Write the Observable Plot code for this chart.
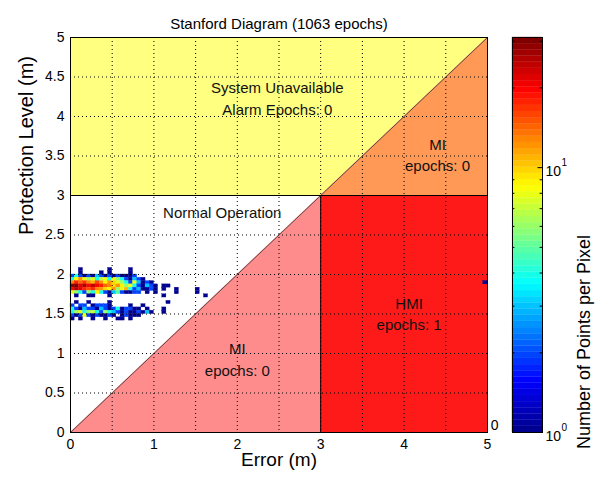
<!DOCTYPE html>
<html><head><meta charset="utf-8">
<script src="https://cdn.jsdelivr.net/npm/d3@7"></script>
<script src="https://cdn.jsdelivr.net/npm/@observablehq/plot@0.6"></script>
<style>
body{margin:0;background:#fff;}
#wrap{position:relative;width:602px;height:484px;overflow:hidden;}
#wrap svg{position:absolute;left:0;top:0;}
</style></head><body><div id="wrap"></div>
<script>
// ---- data ----
const titleText = "Stanford Diagram (1063 epochs)";
const xLabel = "Error (m)";
const yLabel = "Protection Level (m)";
const cbLabel = "Number of Points per Pixel";
const axisMax = 5;
const alarmLimit = 3;
const xTicks = [0, 1, 2, 3, 4, 5];
const xGrid = [0.5, 1, 1.5, 2, 2.5, 3, 3.5, 4, 4.5];
const yTicks = [0, 0.5, 1, 1.5, 2, 2.5, 3, 3.5, 4, 4.5, 5];
const yGrid = [0.5, 1, 1.5, 2, 2.5, 3, 3.5, 4, 4.5];
const xBin = 0.05;
const yBin = 5 / 120;
const countDomain = [1, 31];
const cbTicks = [1, 10];
const cbExponents = ["0", "1"];
const cbMinor = [2, 3, 4, 5, 6, 7, 8, 9, 20, 30];
// heatmap rows: y-bin index and counts per x-bin (starting at x = 0)
const rowBins = [49, 48, 47, 46, 45, 44, 43, 42, 41, 39, 38, 37, 36, 35, 34];
const rowCounts = [
  [0,0,1,0,0,0,0,0,0,1,0,0,0,0,1],
  [0,0,1,0,0,0,0,1,0,1,0,0,0,0,1],
  [2,4,2,1,2,1,3,2,1,2,1,2,1,1,1,2],
  [4,9,12,9,6,8,4,7,8,4,8,6,4,2,1,3,2,1],
  [13,18,14,17,13,11,16,12,9,12,10,8,6,4,2,8,3,1,2,1],
  [28,30,22,26,20,25,20,18,14,13,10,12,9,6,8,4,2,1,3,2,1,0,1,1],
  [20,26,22,18,15,18,13,12,10,9,12,6,8,11,4,2,3,1,1,2,1,0,1,0,0,1,0,0,0,0,1],
  [8,6,4,2,6,4,9,4,2,1,3,5,2,1,1,2,2,0,1,0,1,0,0,0,0,1,0,0,0,0,1],
  [0,1,0,0,1,1,0,0,0,1,0,0,0,0,0,0,0,0,0,0,0,0,1,0,0,0,0,0,0,0,0,0,1],
  [0,1,0,0,1,0,0,0,0,1,0,0,0,0,0,0,0,0,0,0,0,0,0,1],
  [2,0,2,2,0,1,2,2,2,1,0,0,0,0,1,0,0,1],
  [4,2,1,3,2,2,1,3,2,1,2,4,1,2,2,1,1,0,1,0,0,0,1],
  [4,6,8,4,6,7,4,2,6,4,3,2,1,2,1,1,2,1,3,1,0,0,1],
  [2,1,2,8,2,1,2,1,1,2,1,0,1,2,1,1,1],
  [1,0,1,0,0,1,0,0,1,0,0,1,1,0,1]
];
const hmiCol = 99, hmiBin = 45, hmiCount = 1;
const centeredNotes = [
  {x: 2.48, y: 4.25, text: "System Unavailable\nAlarm Epochs: 0"},
  {x: 4.4, y: 3.53, text: "MI\nepochs: 0"},
  {x: 4.06, y: 1.52, text: "HMI\nepochs: 1"},
  {x: 2.0, y: 0.94, text: "MI\nepochs: 0"}
];
const leftNotes = [
  {x: 1.11, y: 2.77, text: "Normal Operation"}
];

// ---- derived tables ----
const cells = [];
rowBins.forEach((k, r) => rowCounts[r].forEach((n, c) => {
  if (n > 0) cells.push({x1: c * xBin, x2: (c + 1) * xBin, y1: k * yBin, y2: (k + 1) * yBin, n});
}));
cells.push({x1: hmiCol * xBin, x2: (hmiCol + 1) * xBin, y1: hmiBin * yBin, y2: (hmiBin + 1) * yBin, n: hmiCount});

const jetScale = d3.scaleLinear().domain([0, 0.125, 0.375, 0.625, 0.875, 1])
  .range(["#000090", "#0000ff", "#00ffff", "#ffff00", "#ff0000", "#800000"]).clamp(true);
const jet = t => jetScale(Math.floor(t * 63.999) / 63);
const colorOpts = {type: "log", domain: countDomain, interpolate: jet};

const L = alarmLimit, M = axisMax;
const yellow = [{x: 0, lo: L}, {x: L, lo: L}, {x: M, lo: M}];
const orange = [{x: L, hi: L}, {x: M, hi: M}];
const pink = [{x: 0, hi: 0}, {x: L, hi: L}];
const red = [{x: L}, {x: M}];

const font = "'Liberation Sans', Arial, Helvetica, sans-serif";
const W = 602, H = 484;

const main = Plot.plot({
  width: W, height: H,
  marginLeft: 70, marginRight: 115, marginTop: 37, marginBottom: 52,
  style: {fontFamily: font, fontSize: "14px", color: "black", background: "transparent"},
  x: {domain: [0, M], axis: null},
  y: {domain: [0, M], axis: null},
  color: colorOpts,
  marks: [
    Plot.areaY(yellow, {x: "x", y1: "lo", y2: M, fill: "#ffff80"}),
    Plot.areaY(orange, {x: "x", y1: L, y2: "hi", fill: "#ff9955"}),
    Plot.areaY(pink, {x: "x", y1: 0, y2: "hi", fill: "#ff8c8c"}),
    Plot.areaY(red, {x: "x", y1: 0, y2: L, fill: "#ff1a1a"}),
    Plot.rect(cells, {x1: "x1", x2: "x2", y1: "y1", y2: "y2", fill: "n", stroke: "n", strokeWidth: 0.3}),
    Plot.gridX(xGrid, {stroke: "black", strokeOpacity: 1, strokeDasharray: "1,3"}),
    Plot.gridY(yGrid, {stroke: "black", strokeOpacity: 1, strokeDasharray: "1,3"}),
    Plot.line([{x: 0, y: 0}, {x: M, y: M}], {x: "x", y: "y", stroke: "#333", strokeWidth: 0.8}),
    Plot.ruleY([L], {x1: 0, x2: M, stroke: "black", strokeWidth: 1}),
    Plot.ruleX([L], {y1: 0, y2: L, stroke: "black", strokeWidth: 1}),
    Plot.frame({stroke: "black"}),
    Plot.text(centeredNotes, {x: "x", y: "y", text: "text", textAnchor: "middle", fontSize: 15, lineHeight: 1.45, fill: "#111"}),
    Plot.text(leftNotes, {x: "x", y: "y", text: "text", textAnchor: "start", fontSize: 15, fill: "#111"}),
    Plot.axisX(xTicks, {tickSize: 0, tickPadding: 7, fontSize: 14, tickFormat: d => String(d)}),
    Plot.axisY(yTicks, {tickSize: 0, tickPadding: 6, fontSize: 14, tickFormat: d => String(d)}),
    Plot.text([titleText], {text: d => d, frameAnchor: "top", dy: -19, fontSize: 15}),
    Plot.text([xLabel], {text: d => d, frameAnchor: "bottom", dy: 33, fontSize: 19}),
    Plot.text([yLabel], {text: d => d, frameAnchor: "left", dx: -44, rotate: -90, fontSize: 20}),
    Plot.text(["0"], {text: d => d, frameAnchor: "bottom-right", dx: 11, dy: -3, fontSize: 14})
  ]
});

const levels = d3.range(64).map(i => {
  const a = Math.log10(countDomain[0]), b = Math.log10(countDomain[1]);
  const y1 = 10 ** (a + (b - a) * i / 64), y2 = 10 ** (a + (b - a) * (i + 1) / 64);
  return {y1, y2, v: Math.sqrt(y1 * y2)};
});

const cbar = Plot.plot({
  width: W, height: H,
  marginLeft: 512, marginRight: 60, marginTop: 37, marginBottom: 52,
  style: {fontFamily: font, fontSize: "14px", color: "black", background: "transparent"},
  x: {domain: [0, 1], axis: null},
  y: {type: "log", domain: countDomain, axis: null},
  color: colorOpts,
  marks: [
    Plot.rect(levels, {x1: 0, x2: 1, y1: "y1", y2: "y2", fill: "v", stroke: "v", strokeWidth: 0.3}),
    Plot.ruleY(cbMinor, {x1: 0, x2: 0.08, stroke: "black"}),
    Plot.ruleY(cbMinor, {x1: 0.92, x2: 1, stroke: "black"}),
    Plot.ruleY(cbTicks, {x1: 0.85, x2: 1, stroke: "black"}),
    Plot.frame({stroke: "black"}),
    Plot.text(cbTicks, {x: 1, y: d => d, text: () => "10", textAnchor: "start", dx: 3, dy: 4, fontSize: 14, fill: "black"}),
    Plot.text(cbTicks, {x: 1, y: d => d, text: (d, i) => cbExponents[cbTicks.indexOf(d)], textAnchor: "start", dx: 19, dy: -5, fontSize: 10, fill: "black"}),
    Plot.text([cbLabel], {text: d => d, frameAnchor: "right", dx: 42, rotate: -90, fontSize: 18})
  ]
});

const wrap = document.getElementById("wrap");
wrap.appendChild(main);
wrap.appendChild(cbar);
</script></body></html>
